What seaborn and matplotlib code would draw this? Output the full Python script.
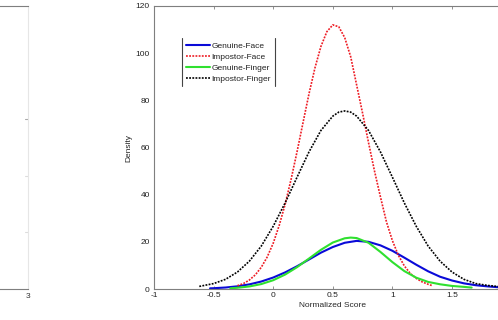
import numpy as np
import pandas as pd
import matplotlib
matplotlib.use('Agg')
import matplotlib.pyplot as plt
import seaborn as sns
from matplotlib.lines import Line2D
from matplotlib.transforms import IdentityTransform

# ---- data ----
genuine_face_x = [-0.53, -0.5, -0.4, -0.3, -0.2, -0.1, 0.0, 0.1, 0.2, 0.3, 0.4, 0.5, 0.6, 0.7,
                  0.8, 0.9, 1.0, 1.1, 1.2, 1.3, 1.4, 1.5, 1.6, 1.7, 1.8, 1.9, 1.95]
genuine_face_y = [0.28, 0.33, 0.63, 1.14, 1.96, 3.17, 4.86, 7.04, 9.64, 12.5, 15.4, 17.8, 19.6, 20.4,
                  20.0, 18.5, 16.2, 13.3, 10.3, 7.5, 5.2, 3.6, 2.4, 1.6, 1.1, 0.7, 0.6]

impostor_face_x = [-0.3, -0.25, -0.2, -0.15, -0.1, -0.05, 0.0, 0.05, 0.1, 0.15, 0.2, 0.25, 0.3,
                   0.35, 0.4, 0.45, 0.5, 0.55, 0.6, 0.65, 0.7, 0.75, 0.8, 0.85, 0.9, 0.95, 1.0,
                   1.05, 1.1, 1.15, 1.2, 1.25, 1.3, 1.33]
impostor_face_y = [1.4, 2.3, 3.8, 6.0, 9.2, 13.6, 19.4, 26.9, 35.9, 46.5, 58.2, 70.5, 82.7,
                   93.7, 102.8, 109.1, 112.0, 111.2, 106.6, 98.5, 86.5, 74.5, 62.0, 50.0, 39.0, 28.5, 20.5,
                   14.3, 9.8, 6.6, 4.5, 3.0, 2.0, 1.5]

genuine_finger_x = [-0.36, -0.3, -0.2, -0.1, 0.0, 0.1, 0.2, 0.3, 0.4, 0.5, 0.6, 0.65, 0.7, 0.8,
                    0.9, 1.0, 1.1, 1.2, 1.3, 1.4, 1.5, 1.6, 1.665]
genuine_finger_y = [0.3, 0.52, 1.08, 2.09, 3.72, 6.12, 9.26, 12.9, 16.6, 19.7, 21.5, 21.8, 21.6, 19.6,
                    15.7, 11.4, 7.6, 4.8, 3.0, 2.0, 1.3, 0.9, 0.6]

impostor_finger_x = [-0.62, -0.5, -0.4, -0.3, -0.2, -0.1, 0.0, 0.1, 0.2, 0.3, 0.4, 0.5, 0.55, 0.6,
                     0.65, 0.7, 0.8, 0.9, 1.0, 1.1, 1.2, 1.3, 1.4, 1.5, 1.6, 1.7, 1.8, 1.9, 1.95]
impostor_finger_y = [1.1, 2.3, 4.1, 7.2, 11.8, 18.2, 26.6, 36.5, 47.4, 58.1, 67.2, 73.3, 75.0, 75.5,
                     75.0, 73.3, 67.2, 58.1, 47.4, 36.5, 26.6, 18.2, 11.8, 7.2, 4.1, 2.3, 1.5, 1.0, 0.8]

series_names = ["Genuine-Face", "Impostor-Face", "Genuine-Finger", "Impostor-Finger"]
x_ticks = [-1, -0.5, 0, 0.5, 1, 1.5]
x_tick_labels = ["-1", "-0.5", "0", "0.5", "1", "1.5"]
y_ticks = [0, 20, 40, 60, 80, 100, 120]
y_tick_labels = ["0", "20", "40", "60", "80", "100", "120"]
x_label = "Normalized Score"
y_label = "Density"
left_panel_xtick = [3]
left_panel_xtick_labels = ["3"]

# ---- style ----
sns.set_style("white")
plt.rcParams['font.family'] = ['Liberation Sans', 'DejaVu Sans']
plt.rcParams['font.size'] = 6

W, H = 498, 320
fig = plt.figure(figsize=(W / 100, H / 100), dpi=100)

spine_gray = "#7f7f7f"
ax_w = 357.6 / W
ax_b = (H - 289) / H
ax_h = 283 / H

# partially visible left panel (cropped in the reference)
axl = fig.add_axes([(28 - 357.6) / W, ax_b, ax_w, ax_h])
axl.set_xlim(0, 3)
axl.set_ylim(0, 1)
axl.set_xticks(left_panel_xtick, left_panel_xtick_labels)
axl.set_yticks([])
axl.tick_params(axis='x', length=0, pad=3, labelsize=6, colors='#333333')
for s in ['top', 'bottom']:
    axl.spines[s].set_color(spine_gray)
    axl.spines[s].set_linewidth(0.8)
axl.spines['left'].set_visible(False)
axl.spines['right'].set_color('#e6e6e6')
axl.spines['right'].set_linewidth(0.8)
for yt, c in [(0.2, '#dddddd'), (0.4, '#dddddd'), (0.6, '#aaaaaa')]:
    axl.plot([2.975, 3.0], [yt, yt], color=c, lw=0.8, clip_on=False)

# main panel (extends past the right edge, as in the crop)
ax = fig.add_axes([154 / W, ax_b, ax_w, ax_h])

colors = ["#0a0ad8", "#ee1c24", "#2fe02f", "#000000"]
styles = ["-", (0, (1.1, 0.8)), "-", (0, (1.1, 0.8))]
widths = [1.5, 1.2, 1.5, 1.2]
xs = [genuine_face_x, impostor_face_x, genuine_finger_x, impostor_finger_x]
ys = [genuine_face_y, impostor_face_y, genuine_finger_y, impostor_finger_y]

handles = []
for name, x, y, c, ls, lw in zip(series_names, xs, ys, colors, styles, widths):
    df = pd.DataFrame({"score": x, "density": y})
    sns.lineplot(data=df, x="score", y="density", ax=ax, color=c, lw=lw, sort=False,
                 estimator=None, legend=False)
    line = ax.get_lines()[-1]
    line.set_linestyle(ls)
    line.set_label(name)
    handles.append(line)

ax.set_xlim(-1, 2)
ax.set_ylim(0, 120)
ax.set_xticks(x_ticks, x_tick_labels)
ax.set_yticks(y_ticks, y_tick_labels)
ax.set_xlabel(x_label, fontsize=6, labelpad=2)
ax.set_ylabel(y_label, fontsize=6, labelpad=2)
ax.tick_params(axis='both', labelsize=6, colors='#222222')
ax.tick_params(axis='x', direction='in', length=2.5, width=0.6, color=spine_gray, pad=2,
               top=True, bottom=True)
ax.tick_params(axis='y', direction='out', length=2, width=0.6, color=spine_gray, pad=1)
for s in ax.spines.values():
    s.set_color(spine_gray)
    s.set_linewidth(0.8)

leg = ax.legend(handles=handles, loc='upper left', bbox_to_anchor=((182 - 154) / 357.6, (289 - 38) / 283),
                fontsize=6, frameon=True, borderaxespad=0, borderpad=0.45, handlelength=2.9,
                handletextpad=0.2, labelspacing=0.38, fancybox=False)
leg.get_frame().set_edgecolor('none')
leg.get_frame().set_facecolor('white')
for t in leg.get_texts():
    t.set_color('#222222')

fig.canvas.draw()
bb = leg.get_frame().get_window_extent()
for xx in (bb.x0, bb.x1):
    fig.add_artist(Line2D([xx, xx], [bb.y0, bb.y1], transform=IdentityTransform(),
                          color='#444444', lw=0.8))

fig.savefig("out.png", dpi=100)
